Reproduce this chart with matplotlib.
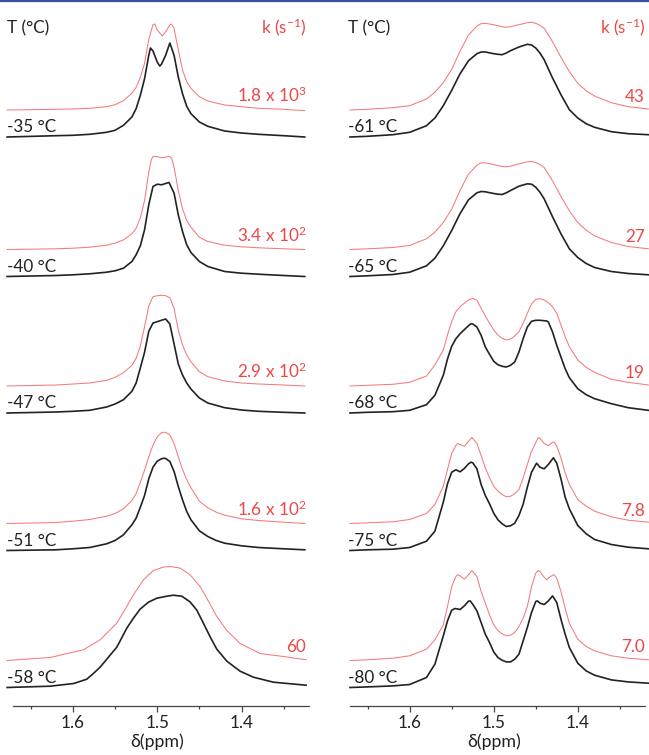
import matplotlib
matplotlib.use('Agg')
import matplotlib.pyplot as plt
import matplotlib.transforms as mtransforms
from matplotlib.lines import Line2D
from matplotlib.ticker import FixedLocator

plt.rcParams['font.family'] = ['Lato', 'DejaVu Sans']
plt.rcParams['mathtext.default'] = 'regular'

# ---------------- data (ppm, intensity in arbitrary units) ----------------
# Left panel
x_m35_exp = [1.678, 1.62, 1.60, 1.58, 1.56, 1.55, 1.54, 1.53, 1.525, 1.52, 1.515, 1.51, 1.508, 1.505, 1.50, 1.497, 1.495, 1.49, 1.485, 1.48, 1.475, 1.47, 1.465, 1.46, 1.45, 1.44, 1.42, 1.40, 1.38, 1.35, 1.325]
y_m35_exp = [0, 1.3, 1.7, 2.7, 4.7, 6.7, 11.7, 20, 28.3, 41.7, 58.3, 81.7, 89, 86, 75, 71, 72.7, 81.7, 94, 81.7, 60, 43.3, 30.7, 23.3, 15, 10.7, 6, 4, 2.7, 1.3, 0]
x_m35_sim = [1.678, 1.62, 1.60, 1.58, 1.56, 1.55, 1.54, 1.53, 1.525, 1.52, 1.515, 1.51, 1.505, 1.503, 1.50, 1.494, 1.49, 1.485, 1.483, 1.48, 1.475, 1.47, 1.465, 1.46, 1.45, 1.44, 1.42, 1.40, 1.38, 1.35, 1.325]
y_m35_sim = [0, 0.7, 1, 1.7, 3.3, 5.3, 9.3, 16.7, 22.7, 32.7, 46.7, 70.7, 85.3, 86, 80, 74, 78.3, 85.3, 86, 81.7, 60, 40, 28.3, 21.7, 13.3, 9, 5, 3.3, 1.7, 0.7, -0.7]

x_m40_exp = [1.678, 1.62, 1.60, 1.58, 1.56, 1.55, 1.54, 1.53, 1.525, 1.52, 1.515, 1.51, 1.505, 1.50, 1.495, 1.49, 1.486, 1.48, 1.475, 1.47, 1.465, 1.46, 1.45, 1.44, 1.42, 1.40, 1.38, 1.35, 1.325]
y_m40_exp = [0, 1, 1.7, 2.7, 4.3, 5.7, 8.3, 15, 21.7, 30.7, 46.7, 71.7, 90, 92.3, 91.7, 93, 94, 83.3, 61.7, 45, 31.7, 24, 15, 10, 5, 3.3, 2.3, 1, 0]
x_m40_sim = [1.678, 1.62, 1.60, 1.58, 1.56, 1.55, 1.54, 1.53, 1.525, 1.52, 1.515, 1.51, 1.507, 1.505, 1.50, 1.495, 1.49, 1.486, 1.483, 1.48, 1.475, 1.47, 1.465, 1.46, 1.45, 1.44, 1.42, 1.40, 1.38, 1.35, 1.325]
y_m40_sim = [0, 0.7, 1.3, 2.3, 4.3, 6.3, 9.7, 15.7, 21.3, 31.7, 49, 77.3, 89.7, 93, 93, 91.7, 92.3, 93.3, 91.7, 82.3, 59, 40.7, 29, 22.3, 12.3, 8, 4.3, 2.7, 1.7, 0.7, 0]

x_m47_exp = [1.678, 1.62, 1.60, 1.58, 1.56, 1.55, 1.54, 1.53, 1.525, 1.52, 1.515, 1.51, 1.505, 1.50, 1.495, 1.49, 1.485, 1.48, 1.475, 1.47, 1.465, 1.46, 1.45, 1.44, 1.42, 1.40, 1.38, 1.35, 1.325]
y_m47_exp = [0, 1, 1.7, 2.7, 6, 9, 13.3, 21.7, 30, 45, 60.7, 81.7, 90, 91.3, 92.7, 94, 89, 69, 49, 38, 30, 24, 15, 10, 5.3, 3, 1.7, 0.7, 0]
x_m47_sim = [1.678, 1.62, 1.60, 1.58, 1.56, 1.55, 1.54, 1.53, 1.525, 1.52, 1.515, 1.51, 1.505, 1.50, 1.495, 1.49, 1.485, 1.48, 1.475, 1.47, 1.465, 1.46, 1.45, 1.44, 1.42, 1.40, 1.38, 1.35, 1.325]
y_m47_sim = [0, 1, 2, 3, 5.7, 8.7, 13.3, 20.7, 27.7, 40, 59.3, 80, 89.3, 90.3, 90.7, 90.3, 88.3, 77.7, 56, 41, 31, 24.3, 14.3, 9.3, 5, 3, 2, 1, 0]

x_m51_exp = [1.678, 1.62, 1.60, 1.58, 1.56, 1.55, 1.54, 1.53, 1.525, 1.52, 1.515, 1.51, 1.505, 1.50, 1.495, 1.492, 1.49, 1.485, 1.48, 1.475, 1.47, 1.465, 1.46, 1.45, 1.44, 1.43, 1.42, 1.40, 1.38, 1.35, 1.325]
y_m51_exp = [0, 0.7, 1.7, 3, 6.7, 10, 15.7, 25.7, 32.3, 43.3, 55, 71.7, 83.3, 89.3, 91.7, 92.3, 92, 89, 79, 64, 50.7, 39, 30.7, 19.7, 14, 10, 7.3, 4.7, 3, 1.7, 0.7]
x_m51_sim = [1.678, 1.62, 1.60, 1.58, 1.56, 1.55, 1.54, 1.53, 1.525, 1.52, 1.515, 1.51, 1.505, 1.50, 1.495, 1.492, 1.49, 1.485, 1.48, 1.475, 1.47, 1.465, 1.46, 1.45, 1.44, 1.43, 1.42, 1.40, 1.38, 1.35, 1.325]
y_m51_sim = [0, 1, 2.3, 4, 7.3, 10, 14.7, 23, 30, 41.3, 53.3, 66.7, 78.3, 86.7, 90.7, 91.3, 91, 88.7, 80, 66.7, 54, 44, 35.7, 22.3, 15.7, 11.3, 8.3, 4.7, 3, 1.3, 0]

x_m58_exp = [1.678, 1.627, 1.599, 1.5835, 1.5757, 1.5677, 1.5559, 1.5479, 1.5361, 1.5282, 1.5203, 1.5104, 1.5005, 1.4886, 1.4808, 1.4708, 1.461, 1.453, 1.4452, 1.4372, 1.4293, 1.4174, 1.4017, 1.3859, 1.3622, 1.3234]
y_m58_exp = [0, 1.3, 4, 8.3, 14, 20.3, 32.3, 40.3, 59.3, 69.3, 78.3, 85.3, 89.3, 91.3, 92.3, 91.3, 85.6, 77.3, 64.3, 50.6, 38.3, 26.3, 16.3, 10.3, 5.3, 2.3]
x_m58_sim = [1.678, 1.627, 1.5875, 1.5677, 1.5479, 1.5361, 1.5282, 1.5163, 1.5045, 1.4926, 1.4847, 1.4728, 1.461, 1.4491, 1.4412, 1.4293, 1.4174, 1.4017, 1.378, 1.3503, 1.3234]
y_m58_sim = [0, 3, 10.7, 20.7, 37.4, 54, 65.7, 80.7, 90, 93.4, 94, 92.4, 85.7, 74, 62.4, 44, 30, 17, 7, 4, 0.7]

# Right panel
x_m61_exp = [1.671, 1.65, 1.62, 1.60, 1.58, 1.57, 1.56, 1.55, 1.54, 1.53, 1.52, 1.515, 1.51, 1.50, 1.495, 1.49, 1.485, 1.48, 1.47, 1.46, 1.455, 1.45, 1.445, 1.44, 1.43, 1.42, 1.41, 1.40, 1.39, 1.38, 1.36, 1.34, 1.316]
y_m61_exp = [0, 0.7, 2.3, 4.7, 11.3, 19, 31.3, 46.7, 63.3, 76.3, 83.3, 85, 85, 83.3, 82.7, 82.3, 84, 86.3, 90, 92.7, 92, 89, 84, 77.3, 59, 42.3, 27.3, 19, 13.3, 9.7, 5.3, 3.3, 2.3]
x_m61_sim = [1.671, 1.65, 1.62, 1.60, 1.58, 1.57, 1.56, 1.55, 1.54, 1.53, 1.52, 1.515, 1.51, 1.50, 1.49, 1.485, 1.48, 1.47, 1.46, 1.455, 1.45, 1.445, 1.44, 1.43, 1.42, 1.41, 1.40, 1.39, 1.38, 1.36, 1.34, 1.316]
y_m61_sim = [0, 0.7, 2.3, 4.3, 11, 17.7, 27.3, 40.7, 59, 75, 84, 86.3, 86.7, 85.3, 83.3, 82.7, 83.3, 85.3, 87.3, 87.7, 86.7, 84.7, 81.7, 68.3, 52.7, 38.3, 26.7, 19.3, 14, 7.3, 3.3, 1]

x_m65_exp = [1.671, 1.65, 1.62, 1.60, 1.58, 1.57, 1.56, 1.55, 1.54, 1.53, 1.52, 1.515, 1.51, 1.50, 1.495, 1.49, 1.485, 1.48, 1.47, 1.46, 1.455, 1.45, 1.445, 1.44, 1.43, 1.42, 1.41, 1.40, 1.39, 1.38, 1.36, 1.34, 1.316]
y_m65_exp = [0, 0.7, 2, 4.3, 10.7, 18.3, 30.7, 46, 63, 76.7, 83.7, 85, 84.7, 83, 82.3, 82, 83.7, 86, 90.3, 92.7, 92.3, 89.3, 84.3, 77.7, 59.7, 42.7, 27.7, 19, 13, 9, 5, 3, 1.7]
x_m65_sim = [1.671, 1.65, 1.62, 1.60, 1.58, 1.57, 1.56, 1.55, 1.54, 1.53, 1.52, 1.515, 1.51, 1.50, 1.49, 1.485, 1.48, 1.47, 1.46, 1.455, 1.45, 1.445, 1.44, 1.43, 1.42, 1.41, 1.40, 1.39, 1.38, 1.36, 1.34, 1.316]
y_m65_sim = [0, 0.7, 2, 4, 10.7, 17.3, 27, 40.3, 59.3, 75.3, 84.3, 86.7, 86.7, 85, 83, 82.7, 83.3, 85.7, 87.7, 88, 87, 85, 82, 68.7, 53, 38.7, 27, 19.3, 13.7, 7, 3, 0.7]

x_m68_exp = [1.671, 1.65, 1.62, 1.60, 1.58, 1.57, 1.56, 1.555, 1.55, 1.545, 1.54, 1.535, 1.53, 1.527, 1.525, 1.52, 1.515, 1.51, 1.505, 1.50, 1.495, 1.49, 1.485, 1.48, 1.475, 1.47, 1.465, 1.46, 1.455, 1.45, 1.445, 1.44, 1.437, 1.435, 1.43, 1.425, 1.42, 1.415, 1.41, 1.40, 1.39, 1.38, 1.36, 1.34, 1.316]
y_m68_exp = [0, 0.7, 1.3, 2.7, 8.3, 17.7, 37.7, 54, 66.7, 74.3, 79.3, 83.3, 87.3, 89.3, 89, 86, 77.7, 66, 58.7, 51.7, 48.3, 46.7, 46, 47.7, 51, 61, 74.3, 86, 91.7, 92.7, 92.7, 92.3, 92, 91, 81, 67.7, 56, 44.3, 35.3, 24.3, 18.3, 14.3, 9.3, 5.3, 2.7]
x_m68_sim = [1.671, 1.65, 1.62, 1.60, 1.58, 1.57, 1.56, 1.555, 1.55, 1.545, 1.54, 1.535, 1.53, 1.525, 1.52, 1.515, 1.51, 1.505, 1.50, 1.495, 1.49, 1.485, 1.48, 1.475, 1.47, 1.465, 1.46, 1.455, 1.45, 1.445, 1.44, 1.435, 1.43, 1.425, 1.42, 1.415, 1.41, 1.40, 1.39, 1.38, 1.36, 1.34, 1.316]
y_m68_sim = [0, 0.7, 1.7, 3.7, 10, 21, 36, 51, 64.3, 74.3, 79.3, 82.7, 86, 87.7, 85.7, 77.7, 70, 62.7, 56, 51, 47.7, 46, 47, 50, 54.3, 62.7, 72.7, 82, 86.7, 87.3, 86, 83.3, 79.3, 72.7, 61, 49.3, 39.3, 26, 18.7, 13.7, 6.7, 3.7, 1]

x_m75_exp = [1.671, 1.65, 1.62, 1.60, 1.58, 1.57, 1.56, 1.555, 1.55, 1.545, 1.54, 1.535, 1.53, 1.527, 1.525, 1.52, 1.515, 1.51, 1.505, 1.50, 1.495, 1.49, 1.485, 1.48, 1.475, 1.47, 1.465, 1.46, 1.455, 1.449, 1.445, 1.44, 1.435, 1.429, 1.425, 1.42, 1.415, 1.41, 1.40, 1.39, 1.38, 1.36, 1.34, 1.316]
y_m75_exp = [0, 0.7, 1.3, 3, 9.3, 19.3, 48.3, 66.7, 78.3, 80.7, 78.7, 82, 86.7, 88.3, 87.7, 81.7, 66, 55, 46.7, 37.3, 30.7, 26.7, 24, 24.7, 27.3, 35, 46.3, 63.3, 78.3, 87.3, 83.3, 81.7, 86, 92.7, 87.3, 71.7, 53.3, 41.7, 25, 16.7, 11, 6, 3.3, 1.7]
x_m75_sim = [1.671, 1.65, 1.62, 1.60, 1.58, 1.57, 1.56, 1.555, 1.55, 1.545, 1.543, 1.54, 1.535, 1.53, 1.526, 1.52, 1.515, 1.51, 1.505, 1.50, 1.495, 1.49, 1.485, 1.48, 1.475, 1.47, 1.465, 1.46, 1.455, 1.45, 1.447, 1.445, 1.44, 1.435, 1.43, 1.428, 1.425, 1.42, 1.415, 1.41, 1.40, 1.39, 1.38, 1.36, 1.34, 1.316]
y_m75_sim = [0, 0.7, 1.7, 4, 10, 19, 37.3, 54, 70, 78, 80, 79, 77.3, 82.3, 86, 80, 68, 55.7, 45.7, 37.3, 32.3, 29, 26.7, 27.3, 29.7, 34, 45.7, 59, 72.3, 80.7, 86, 85.3, 80, 78, 81.3, 81.3, 77.3, 65.7, 50.7, 39, 24, 17.3, 12.3, 6.7, 3.3, 1.3]

x_m80_exp = [1.671, 1.65, 1.62, 1.60, 1.58, 1.57, 1.56, 1.555, 1.55, 1.546, 1.54, 1.535, 1.53, 1.528, 1.525, 1.52, 1.515, 1.51, 1.505, 1.50, 1.495, 1.49, 1.485, 1.48, 1.475, 1.47, 1.465, 1.46, 1.455, 1.45, 1.448, 1.445, 1.44, 1.435, 1.43, 1.425, 1.42, 1.415, 1.41, 1.40, 1.39, 1.38, 1.36, 1.34, 1.316]
y_m80_exp = [0, 0.6, 1.6, 3, 10, 23.3, 51.6, 66.6, 77.3, 79, 78, 81.6, 86.3, 86.6, 83.3, 76.6, 65, 53.3, 45, 35.6, 30, 27.3, 25.6, 25.6, 28.3, 33.3, 46.6, 60, 75, 86, 86.6, 84.3, 83, 86.6, 91.6, 85, 68.3, 53.3, 40, 24.3, 16.6, 12.3, 7.6, 5.6, 4.3]
x_m80_sim = [1.671, 1.65, 1.62, 1.60, 1.58, 1.57, 1.56, 1.555, 1.55, 1.545, 1.543, 1.54, 1.535, 1.53, 1.526, 1.52, 1.515, 1.51, 1.505, 1.50, 1.495, 1.49, 1.485, 1.48, 1.475, 1.47, 1.465, 1.46, 1.455, 1.45, 1.447, 1.445, 1.44, 1.437, 1.435, 1.43, 1.428, 1.425, 1.42, 1.415, 1.41, 1.40, 1.39, 1.38, 1.36, 1.34, 1.316]
y_m80_sim = [0, 0.7, 2.3, 4.7, 11.3, 20.7, 35.7, 54, 74, 84, 85.7, 84.7, 81.3, 85.7, 90, 84, 69, 57.3, 45.7, 35.7, 30, 26.7, 24.7, 25.3, 28, 34, 42.3, 54, 74, 87.3, 90, 89, 83.3, 80.7, 82.3, 85.3, 85.7, 82.3, 69, 52.3, 37.3, 21.3, 14, 9.7, 4.7, 2.3, 0.7]

left_temps = ['-35 °C', '-40 °C', '-47 °C', '-51 °C', '-58 °C']
left_rates = ['1.8 x 10$^{3}$', '3.4 x 10$^{2}$', '2.9 x 10$^{2}$', '1.6 x 10$^{2}$', '60']
right_temps = ['-61 °C', '-65 °C', '-68 °C', '-75 °C', '-80 °C']
right_rates = ['43', '27', '19', '7.8', '7.0']

major_ticks = [1.6, 1.5, 1.4]
minor_ticks = [1.65, 1.55, 1.45, 1.35]
tick_labels = ['1.6', '1.5', '1.4']

left_exp = [(x_m35_exp, y_m35_exp), (x_m40_exp, y_m40_exp), (x_m47_exp, y_m47_exp), (x_m51_exp, y_m51_exp), (x_m58_exp, y_m58_exp)]
left_sim = [(x_m35_sim, y_m35_sim), (x_m40_sim, y_m40_sim), (x_m47_sim, y_m47_sim), (x_m51_sim, y_m51_sim), (x_m58_sim, y_m58_sim)]
right_exp = [(x_m61_exp, y_m61_exp), (x_m65_exp, y_m65_exp), (x_m68_exp, y_m68_exp), (x_m75_exp, y_m75_exp), (x_m80_exp, y_m80_exp)]
right_sim = [(x_m61_sim, y_m61_sim), (x_m65_sim, y_m65_sim), (x_m68_sim, y_m68_sim), (x_m75_sim, y_m75_sim), (x_m80_sim, y_m80_sim)]

# ---------------- layout ----------------
W, H = 649, 755
fig = plt.figure(figsize=(W / 100, H / 100), dpi=100)

AX_BOTTOM_PX = 706
offsets = [569, 429.5, 293, 155.5, 18.5]   # stacking offsets of each spectrum
sim_shift = 27                               # simulated trace offset above experimental
BLACK = '#222222'
RED_LINE = '#f47a7a'
RED_TEXT = '#ec4848'
FS = 12.3


def make_panel(left_px, width_px, exp, sim, temps, rates, tlabel_dx, klabel_x):
    ax = fig.add_axes([left_px / W, (H - AX_BOTTOM_PX) / H, width_px / W, AX_BOTTOM_PX / H])
    ax.set_xlim(1.671, 1.32)
    ax.set_ylim(0, AX_BOTTOM_PX)
    for s in ['top', 'right', 'left']:
        ax.spines[s].set_visible(False)
    ax.spines['bottom'].set_color('#444444')
    ax.spines['bottom'].set_linewidth(0.9)
    ax.set_yticks([])
    ax.xaxis.set_major_locator(FixedLocator(major_ticks))
    ax.set_xticklabels(tick_labels)
    ax.xaxis.set_minor_locator(FixedLocator(minor_ticks))
    ax.tick_params(axis='x', which='major', direction='out', length=4, width=0.9,
                   color='#444444', labelsize=FS, pad=2.5, labelcolor='#222222')
    ax.tick_params(axis='x', which='minor', direction='out', length=2.5, width=0.9, color='#444444')
    ax.patch.set_visible(False)

    trans = mtransforms.blended_transform_factory(ax.transAxes, ax.transData)
    for i in range(5):
        off = offsets[i]
        xe, ye = exp[i]
        xs, ys = sim[i]
        ax.plot(xs, [v + off + sim_shift for v in ys], color=RED_LINE, lw=0.75, clip_on=False,
                solid_joinstyle='round')
        ax.plot(xe, [v + off for v in ye], color=BLACK, lw=1.2, clip_on=False,
                solid_joinstyle='round')
        ax.text(tlabel_dx, off + 4.5, temps[i], transform=trans, ha='left', va='baseline',
                fontsize=FS, color=BLACK)
        ax.text(klabel_x, off + sim_shift + 8, rates[i], transform=trans, ha='right', va='baseline',
                fontsize=FS, color=RED_TEXT)
    ax.text(tlabel_dx, AX_BOTTOM_PX - 33, 'T (°C)', transform=trans, ha='left', va='baseline',
            fontsize=FS, color=BLACK)
    ax.text(klabel_x, AX_BOTTOM_PX - 33, 'k (s$^{-1}$)', transform=trans, ha='right', va='baseline',
            fontsize=FS, color=RED_TEXT)
    tx = mtransforms.blended_transform_factory(ax.transData, ax.transAxes)
    ax.text(1.5, -41 / AX_BOTTOM_PX, 'δ(ppm)', transform=tx, ha='center', va='baseline',
            fontsize=FS + 0.5, color=BLACK)
    return ax


make_panel(13, 296, left_exp, left_sim, left_temps, left_rates, -0.02, 0.99)
make_panel(350, 295, right_exp, right_sim, right_temps, right_rates, -0.007, 1.0)

fig.add_artist(Line2D([0, 1], [1 - 1.2 / H, 1 - 1.2 / H], transform=fig.transFigure,
                      color='#3d4d9e', lw=1.6))

fig.savefig('out.png', dpi=100)
